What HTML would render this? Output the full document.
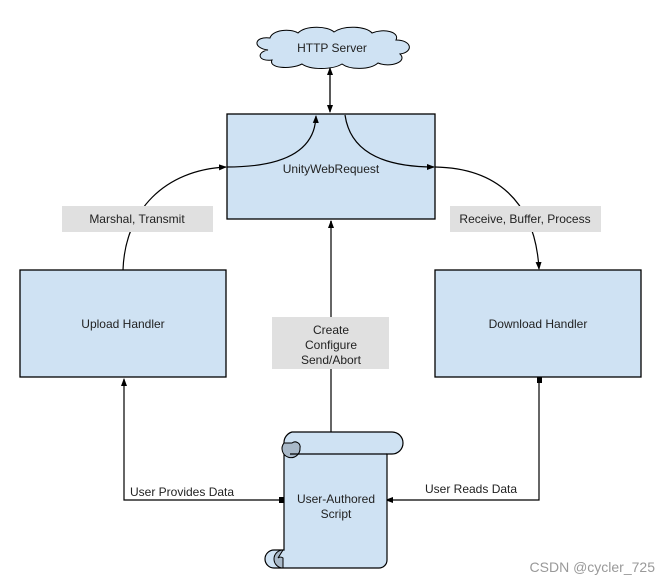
<!DOCTYPE html>
<html><head><meta charset="utf-8"><style>
html,body{margin:0;padding:0;background:#fff;}
svg{display:block;}
text{font-family:"Liberation Sans",Arial,sans-serif;font-size:12px;fill:#222;}
</style></head><body>
<svg width="671" height="585" viewBox="0 0 671 585" xmlns="http://www.w3.org/2000/svg">
<defs>
<marker id="a" markerWidth="8" markerHeight="8" refX="7" refY="4" orient="auto" markerUnits="userSpaceOnUse">
<path d="M0,1 L8,4 L0,7 Z" fill="#000"/></marker>
<marker id="as" markerWidth="8" markerHeight="8" refX="1" refY="4" orient="auto" markerUnits="userSpaceOnUse">
<path d="M8,1 L0,4 L8,7 Z" fill="#000"/></marker>
</defs>
<!-- cloud -->
<path d="M268,50 C252,48 254,36 270,38 C272,30 290,28 298,33 C306,25 328,26 334,32 C344,25 366,26 372,33 C384,28 400,32 396,40 C412,40 414,52 400,54 C408,62 390,68 378,63 C370,70 350,70 342,64 C332,70 310,70 302,64 C290,70 268,68 272,60 C258,62 256,52 268,50 Z" fill="#cfe2f3" stroke="#000" stroke-width="1"/>
<text x="332" y="52" text-anchor="middle">HTTP Server</text>
<line x1="330" y1="68" x2="330" y2="112" stroke="#000" stroke-width="1.3" marker-start="url(#as)" marker-end="url(#a)"/>
<!-- main box -->
<rect x="227" y="114" width="208" height="105" fill="#cfe2f3" stroke="#000" stroke-width="1.3"/>
<text x="331" y="173" text-anchor="middle">UnityWebRequest</text>
<!-- upload / download -->
<rect x="20" y="270" width="206" height="107" fill="#cfe2f3" stroke="#000" stroke-width="1.3"/>
<text x="123" y="328" text-anchor="middle">Upload Handler</text>
<rect x="435" y="270" width="206" height="107" fill="#cfe2f3" stroke="#000" stroke-width="1.3"/>
<text x="538" y="328" text-anchor="middle">Download Handler</text>
<!-- curves -->
<path d="M123,270 C125,210 165,170 226,167" fill="none" stroke="#000" stroke-width="1.2" marker-end="url(#a)"/>
<path d="M227,167 C285,167 315,150 316,116" fill="none" stroke="#000" stroke-width="1.2" marker-end="url(#a)"/>
<path d="M345,115 C350,150 380,167 434,167" fill="none" stroke="#000" stroke-width="1.2" marker-end="url(#a)"/>
<path d="M435,167 C495,168 535,200 539,269" fill="none" stroke="#000" stroke-width="1.2" marker-end="url(#a)"/>
<rect x="62" y="206" width="151" height="26" fill="#e0e0e0"/>
<text x="137" y="223" text-anchor="middle">Marshal, Transmit</text>
<rect x="450" y="206" width="151" height="26" fill="#e0e0e0"/>
<text x="525" y="223" text-anchor="middle">Receive, Buffer, Process</text>
<!-- center vertical -->
<line x1="331" y1="432" x2="331" y2="221" stroke="#666" stroke-width="2" marker-end="url(#a)"/>
<rect x="272" y="317" width="117" height="52" fill="#e0e0e0"/>
<text x="331" y="334" text-anchor="middle">Create</text>
<text x="331" y="349" text-anchor="middle">Configure</text>
<text x="331" y="364" text-anchor="middle">Send/Abort</text>
<!-- lower connectors -->
<polyline points="283,500 124,500 124,379" fill="none" stroke="#000" stroke-width="1.2" marker-end="url(#a)"/>
<rect x="279" y="497" width="5" height="6" fill="#000"/>
<polyline points="539,378 539,500 386,500" fill="none" stroke="#000" stroke-width="1.2" marker-end="url(#a)"/>
<rect x="537" y="377" width="5" height="6" fill="#000"/>
<text x="130" y="496">User Provides Data</text>
<text x="425" y="493">User Reads Data</text>
<!-- scroll -->
<path d="M292,432 L392,432 A11,11 0 0 1 392,454 L387,454 L387,560 A8,8 0 0 1 379,568 L274,568 A9,9 0 0 1 274,550 L284,550 L284,443 A11,11 0 0 1 292,432 Z" fill="#cfe2f3" stroke="#000" stroke-width="1.2"/>
<path d="M284,443 A9,9 0 1 0 300,448 A5,5 0 0 0 292,443 L284,443 Z" fill="#a9b9c9" stroke="#000" stroke-width="1"/>
<line x1="290" y1="454" x2="387" y2="454" stroke="#000" stroke-width="1.2"/>
<path d="M283,550 A9,9 0 1 0 283,568 L283,558 A4,4 0 0 0 278,558 Z" fill="#a9b9c9" stroke="#000" stroke-width="1"/>
<text x="336" y="503" text-anchor="middle">User-Authored</text>
<text x="336" y="518" text-anchor="middle">Script</text>
<text x="655" y="572" text-anchor="end" style="font-size:14px;fill:#999;">CSDN @cycler_725</text>
</svg>
</body></html>
